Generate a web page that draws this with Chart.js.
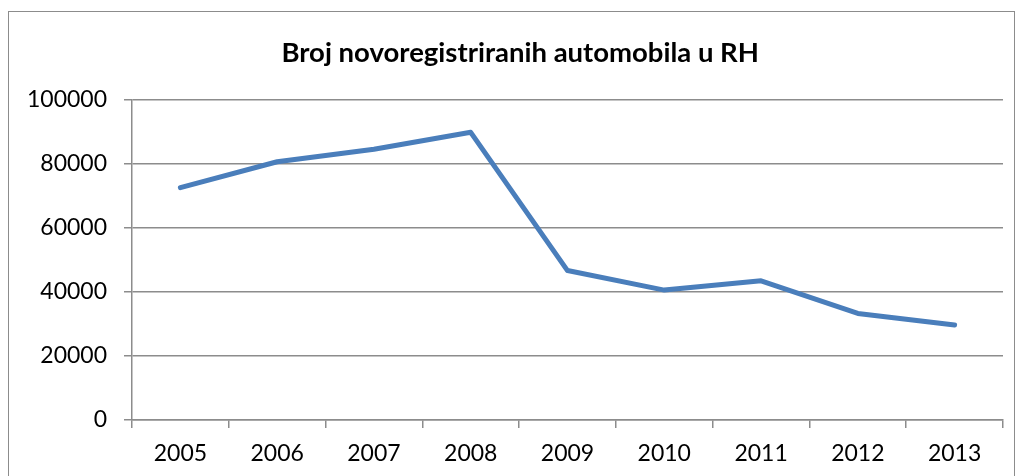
<!DOCTYPE html>
<html>
<head>
<meta charset="utf-8">
<script src="https://cdn.jsdelivr.net/npm/chart.js@4/dist/chart.umd.min.js"></script>
<style>
  html, body { margin: 0; padding: 0; background: #fff; }
  #wrap { position: relative; width: 1025px; height: 476px; overflow: hidden; }
  #frame { position: absolute; left: 8px; top: 11px; width: 1005px; height: 500px; border: 1px solid #8c8c8c; }
  #lineChart { position: absolute; left: 0; top: 0; }
</style>
</head>
<body>
<div id="wrap">
  <div id="frame"></div>
  <canvas id="lineChart" width="1025" height="476"></canvas>
</div>
<script>
var years = ["2005", "2006", "2007", "2008", "2009", "2010", "2011", "2012", "2013"];
var cars = [72600, 80700, 84600, 89900, 46700, 40600, 43500, 33300, 29700];
var yTicks = [0, 20000, 40000, 60000, 80000, 100000];

var gridGray = "#8c8c8c";

var ctx = document.getElementById("lineChart");
var lineChart = new Chart(ctx, {
  type: 'line',
  data: {
    labels: years,
    datasets: [{
      label: "Broj novoregistriranih automobila",
      data: cars,
      borderColor: "#4a7ebb",
      backgroundColor: "#4a7ebb",
      borderWidth: 5,
      borderCapStyle: 'round',
      borderJoinStyle: 'round',
      pointRadius: 0,
      tension: 0,
      fill: false
    }]
  },
  options: {
    responsive: false,
    animation: false,
    layout: { padding: { left: 24, right: 22, top: 0, bottom: 0 } },
    plugins: {
      legend: { display: false },
      tooltip: { enabled: false },
      title: {
        display: true,
        // leading space nudges the title right, as in the original
        text: "  Broj novoregistriranih automobila u RH",
        color: "#000",
        font: { family: "Lato", size: 27.5, weight: "bold", lineHeight: 1.2 },
        padding: { top: 37, bottom: 30 }
      }
    },
    scales: {
      x: {
        offset: true,
        grid: { offset: true, drawOnChartArea: false, color: gridGray, tickLength: 8, lineWidth: 1.5 },
        border: { color: gridGray, width: 1.5 },
        ticks: { color: "#000", font: { family: "Lato", size: 23 }, padding: 12, maxRotation: 0 },
        afterFit: function(scale) { scale.height = 56; }
      },
      y: {
        min: 0,
        max: 100000,
        afterBuildTicks: function(scale) {
          scale.ticks = yTicks.map(function(v) { return { value: v }; });
        },
        grid: { color: gridGray, tickLength: 8, lineWidth: 1.5 },
        border: { color: gridGray, width: 1.5 },
        ticks: {
          color: "#000",
          font: { family: "Lato", size: 23 },
          padding: 17,
          callback: function(value) { return String(value); }
        },
        afterFit: function(scale) { scale.width = 108; }
      }
    }
  }
});
</script>
</body>
</html>
